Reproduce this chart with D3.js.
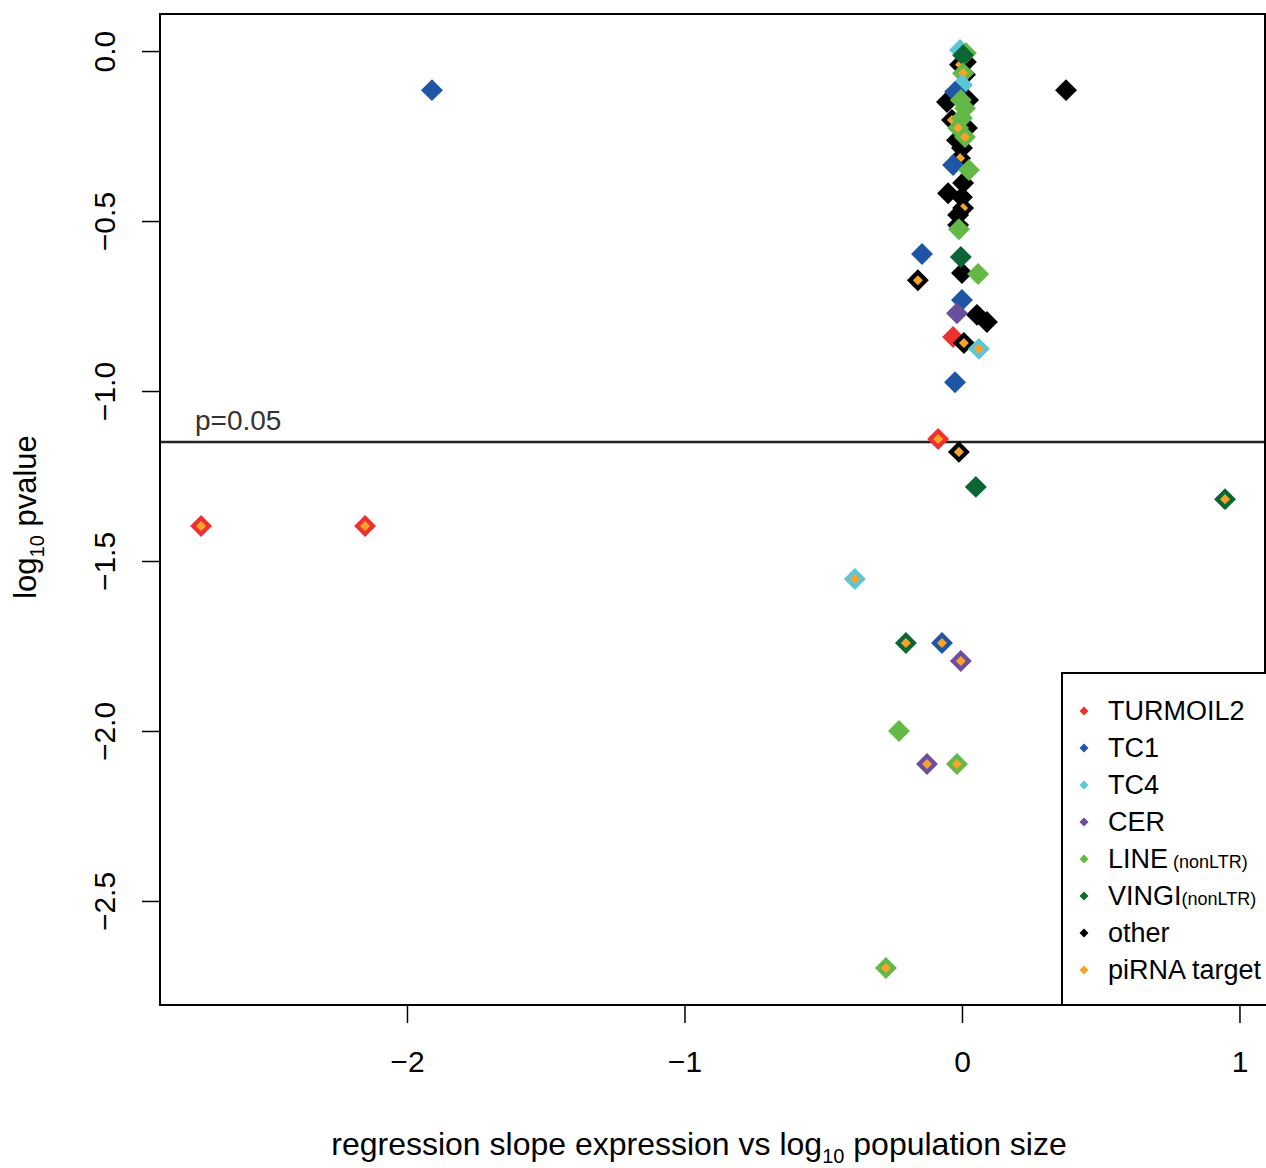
<!DOCTYPE html>
<html lang="en">
<head>
<meta charset="utf-8">
<title>slope vs pvalue</title>
<script src="https://cdn.jsdelivr.net/npm/d3@7"></script>
<style>
  body { margin: 0; background: #fff; }
  text { font-family: "Liberation Sans", Arial, sans-serif; }
</style>
</head>
<body>
<script>
// families and colours, in legend order
var families = ["TURMOIL2", "TC1", "TC4", "CER", "LINE", "VINGI", "other"];
var famColors = ["#ec3130", "#1e55a4", "#5cc5d8", "#6a4f9f", "#63b846", "#0b6634", "#000000"];
var piColor = "#f7a22b";

// points: slope, log10 pvalue, family index, piRNA target (1/0)
var slope = [
  -1.910, 0.375, -2.742, -2.151, 0.948, -0.386, -0.202, -0.072, -0.004, -0.227,
  -0.126, -0.018, -0.274, -0.086, -0.011, 0.050,
  0.014, -0.007, 0.011, -0.054, 0.022, -0.036, 0.018, -0.018, 0.000, -0.007,
  0.004, -0.050, 0.000, 0.004, -0.014, -0.014, 0.000, -0.159, 0.054, 0.090,
  -0.007, 0.014, 0.004, 0.004, 0.000, -0.025, -0.004, 0.011, 0.000, -0.014,
  0.011, -0.032, 0.025, -0.011, -0.144, -0.004, 0.058, 0.000, -0.018, -0.032,
  0.007, 0.061, -0.025
];
var logp = [
  -0.115, -0.115, -1.397, -1.397, -1.318, -1.553, -1.741, -1.741, -1.794, -2.000,
  -2.097, -2.097, -2.697, -1.141, -1.179, -1.282,
  -0.032, -0.040, -0.070, -0.150, -0.144, -0.203, -0.226, -0.262, -0.285, -0.315,
  -0.388, -0.418, -0.430, -0.462, -0.482, -0.512, -0.653, -0.674, -0.776, -0.797,
  0.003, -0.006, -0.012, -0.065, -0.100, -0.120, -0.144, -0.168, -0.197, -0.226,
  -0.253, -0.335, -0.350, -0.524, -0.597, -0.606, -0.656, -0.732, -0.771, -0.841,
  -0.859, -0.876, -0.974
];
var family = [
  1, 6, 0, 0, 5, 2, 5, 1, 3, 4,
  3, 4, 4, 0, 6, 5,
  6, 6, 6, 6, 6, 6, 6, 6, 6, 6,
  6, 6, 6, 6, 6, 6, 6, 6, 6, 6,
  2, 4, 5, 4, 2, 1, 4, 4, 4, 4,
  4, 1, 4, 4, 1, 5, 4, 1, 3, 0,
  6, 2, 1
];
var pirna = [
  0, 0, 1, 1, 1, 1, 1, 1, 1, 0,
  1, 1, 1, 1, 1, 0,
  0, 1, 0, 0, 0, 1, 0, 0, 0, 1,
  0, 0, 0, 1, 0, 0, 0, 1, 0, 0,
  0, 0, 0, 1, 0, 0, 0, 0, 0, 1,
  1, 0, 0, 0, 0, 0, 0, 0, 0, 0,
  1, 1, 0
];

var xTicks = [-2, -1, 0, 1];
var yTicks = [0, -0.5, -1, -1.5, -2, -2.5];
var threshold = -1.15;
var legendLabels = ["TURMOIL2", "TC1", "TC4", "CER", "LINE", "VINGI", "other", "piRNA target"];
var legendSmall = ["", "", "", "", " (nonLTR)", "(nonLTR)", "", ""];

var w = 1266, h = 1168;
var mLeft = 160, mRight = 1265, mTop = 14, mBottom = 1005;

var svg = d3.select("body").append("svg")
  .attr("width", w)
  .attr("height", h);

var x = d3.scaleLinear().domain([-2.89, 1.092]).range([mLeft, mRight]);
var y = d3.scaleLinear().domain([0.109, -2.806]).range([mTop, mBottom]);

// axes
var xAxis = svg.append("g")
  .attr("transform", "translate(0," + mBottom + ")")
  .call(d3.axisBottom(x).tickValues(xTicks).tickSize(18).tickPadding(28).tickFormat(d3.format("d")));
xAxis.select(".domain").remove();
xAxis.selectAll("line").attr("stroke", "#000").attr("stroke-width", 1.5);
xAxis.selectAll("text").attr("font-size", 30).attr("fill", "#000")
  .attr("font-family", "Liberation Sans, Arial, sans-serif");

var yAxis = svg.append("g")
  .attr("transform", "translate(" + mLeft + ",0)")
  .call(d3.axisLeft(y).tickValues(yTicks).tickSize(18).tickFormat(d3.format(".1f")));
yAxis.select(".domain").remove();
yAxis.selectAll("line").attr("stroke", "#000").attr("stroke-width", 1.5);
yAxis.selectAll("text")
  .attr("x", 0).attr("dy", 0)
  .attr("text-anchor", "middle")
  .attr("transform", "translate(-45,0) rotate(-90)")
  .attr("font-size", 30).attr("fill", "#000")
  .attr("font-family", "Liberation Sans, Arial, sans-serif");

// titles
var xt = svg.append("text")
  .attr("x", 699).attr("y", 1155)
  .attr("text-anchor", "middle")
  .attr("font-size", 32);
xt.append("tspan").text("regression slope expression vs log");
xt.append("tspan").text("10").attr("font-size", 20).attr("dy", 8);
xt.append("tspan").text(" population size").attr("dy", -8);

var yt = svg.append("text")
  .attr("transform", "translate(36,517) rotate(-90)")
  .attr("text-anchor", "middle")
  .attr("font-size", 31);
yt.append("tspan").text("log");
yt.append("tspan").text("10").attr("font-size", 20).attr("dy", 8);
yt.append("tspan").text(" pvalue").attr("dy", -8);

// threshold line
svg.append("line")
  .attr("x1", mLeft).attr("x2", mRight)
  .attr("y1", y(threshold)).attr("y2", y(threshold))
  .attr("stroke", "#222").attr("stroke-width", 2.5);
svg.append("text")
  .attr("x", 195).attr("y", y(threshold) - 12)
  .attr("font-size", 28).attr("fill", "#333")
  .text("p=0.05");

// points
var diamond = d3.symbol().type(d3.symbolSquare).size(128);
var pts = slope.map(function(s, i) {
  return { x: s, y: logp[i], f: family[i], p: pirna[i] };
});
svg.append("g").selectAll("path")
  .data(pts)
  .join("path")
  .attr("d", diamond)
  .attr("transform", function(d) { return "translate(" + x(d.x) + "," + y(d.y) + ") rotate(45)"; })
  .attr("fill", function(d) { return d.p ? piColor : famColors[d.f]; })
  .attr("stroke", function(d) { return famColors[d.f]; })
  .attr("stroke-width", 4.2)
  .attr("stroke-linejoin", "miter");

// frame
svg.append("rect")
  .attr("x", mLeft).attr("y", mTop)
  .attr("width", mRight - mLeft).attr("height", mBottom - mTop)
  .attr("fill", "none").attr("stroke", "#000").attr("stroke-width", 2);

// legend
var lg = svg.append("g");
lg.append("rect")
  .attr("x", 1062).attr("y", 673)
  .attr("width", 215).attr("height", mBottom - 673)
  .attr("fill", "#fff").attr("stroke", "#000").attr("stroke-width", 2);
var legColors = famColors.concat([piColor]);
var smallDiamond = d3.symbol().type(d3.symbolSquare).size(40);
legendLabels.forEach(function(lab, i) {
  var ly = 711 + i * 37;
  lg.append("path")
    .attr("d", smallDiamond)
    .attr("transform", "translate(1084," + ly + ") rotate(45)")
    .attr("fill", legColors[i]);
  var t = lg.append("text")
    .attr("x", 1108).attr("y", ly + 9)
    .attr("font-size", 27);
  t.append("tspan").text(lab);
  if (legendSmall[i]) t.append("tspan").text(legendSmall[i]).attr("font-size", 18);
});
</script>
</body>
</html>
